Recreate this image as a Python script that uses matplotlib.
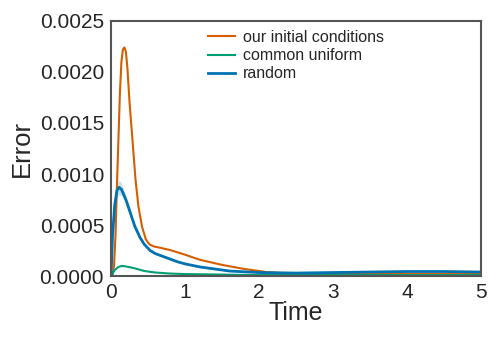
import numpy as np
import matplotlib
matplotlib.use("Agg")
import matplotlib.pyplot as plt

# Values
t_ours = [0, 0.02, 0.04, 0.06, 0.08, 0.1, 0.12, 0.14, 0.16, 0.18, 0.2, 0.22,
          0.25, 0.29, 0.33, 0.37, 0.42, 0.47, 0.52, 0.58, 0.65, 0.8, 1.0,
          1.2, 1.5, 1.8, 2.1, 2.4, 2.8, 3.5, 4.2, 5.0]
err_ours = [0, 0.00001, 0.0001, 0.0004, 0.0009, 0.00135, 0.0018, 0.0021,
            0.00222, 0.00224, 0.0022, 0.00205, 0.0017, 0.00133, 0.00095,
            0.00068, 0.00048, 0.00036, 0.00031, 0.00029, 0.00028, 0.000255,
            0.00021, 0.00016, 0.00011, 0.00007, 0.00004, 0.000025, 0.00002,
            0.00002, 0.00002, 0.00002]

t_uniform = [0, 0.05, 0.1, 0.15, 0.2, 0.3, 0.45, 0.6, 0.8, 1.0, 1.5, 2.0,
             3.0, 5.0]
err_uniform = [0, 0.00006, 0.00009, 0.0001, 0.000095, 0.00008, 0.00005,
               0.000035, 0.000025, 0.00002, 0.000015, 0.00001, 0.00001,
               0.00001]

t_random = [0, 0.02, 0.05, 0.08, 0.11, 0.14, 0.2, 0.26, 0.32, 0.39, 0.45,
            0.53, 0.6, 0.75, 0.9, 1.0, 1.2, 1.6, 2.0, 2.5, 3.0, 3.5, 4.0,
            4.5, 5.0]
err_random = [0, 0.0004, 0.0007, 0.00084, 0.00087, 0.00085, 0.00075,
              0.00062, 0.00049, 0.00038, 0.00031, 0.00025, 0.00022,
              0.00018, 0.00014, 0.00012, 0.00009, 0.00005, 0.000035,
              0.00003, 0.000035, 0.00004, 0.000045, 0.000045, 0.00004]
std_random = [0, 0.00003, 0.00006, 0.00007, 0.00007, 0.00006, 0.00004,
              0.00003, 0.000025, 0.00002, 0.000015, 0.000012, 0.00001,
              0.00001, 0.00001, 0.00001, 0.000008, 0.000006, 0.000005,
              0.000005, 0.000005, 0.000005, 0.000005, 0.000005, 0.000005]

plt.rcParams["font.family"] = ["Liberation Sans", "DejaVu Sans"]

fig = plt.figure(figsize=(4.98, 3.43), dpi=100)
ax = fig.add_axes([0.223, 0.195, 0.743, 0.744])

c_ours, c_uni, c_rand = "#d55e00", "#009e73", "#0072b2"

ax.plot(t_ours, err_ours, color=c_ours, lw=1.5, label="our initial conditions")
ax.plot(t_uniform, err_uniform, color=c_uni, lw=1.5, label="common uniform")
r = np.array(err_random)
s = np.array(std_random)
ax.fill_between(t_random, r - s, r + s, color=c_rand, alpha=0.2, lw=0)
ax.plot(t_random, err_random, color=c_rand, lw=2, label="random")

ax.set_xlim(0, 5)
ax.set_ylim(0, 0.0025)
ax.set_xticks([0, 1, 2, 3, 4, 5])
ax.set_yticks([0, 0.0005, 0.001, 0.0015, 0.002, 0.0025])
ax.set_yticklabels(["0.0000", "0.0005", "0.0010", "0.0015", "0.0020", "0.0025"])
ax.tick_params(length=0, labelsize=15, colors="#262626", pad=5)
ax.set_xlabel("Time", fontsize=18, color="#262626", labelpad=-1)
ax.set_ylabel("Error", fontsize=18.5, color="#262626", labelpad=4)
for sp in ax.spines.values():
    sp.set_color("#555555")
    sp.set_linewidth(1.5)

leg = fig.legend(loc="upper left", bbox_to_anchor=(208 / 498, 1 - 30 / 343),
                 frameon=False, fontsize=11.5, handlelength=1.7,
                 labelspacing=0.2, handletextpad=0.5, borderpad=0,
                 borderaxespad=0)
for txt in leg.get_texts():
    txt.set_color("#262626")

fig.savefig("out.png", dpi=100)
